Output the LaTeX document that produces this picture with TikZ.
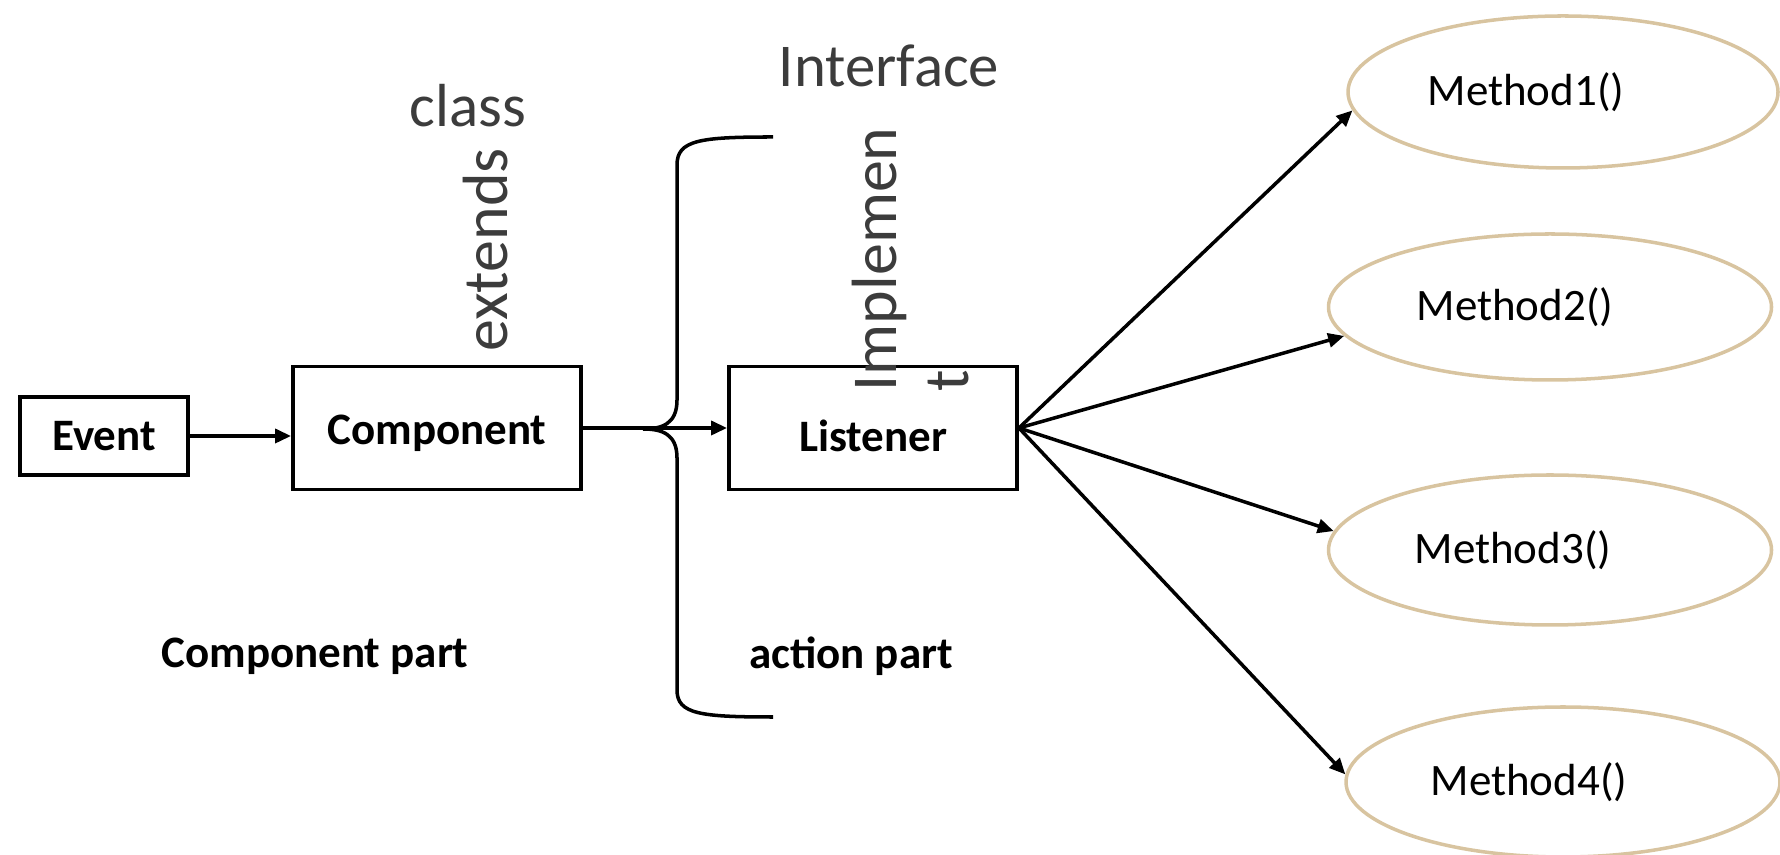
\documentclass[tikz,border=0pt]{standalone}
\usepackage{fontspec}
\setmainfont{Carlito}
\usetikzlibrary{arrows.meta,shapes.geometric}
\definecolor{methodedge}{RGB}{216,196,160}
\definecolor{softtext}{RGB}{60,60,60}

\begin{document}
\begin{tikzpicture}[x=0.1mm,y=-0.1mm,
  box/.style={draw,line width=1.1pt,inner sep=0,font=\fontsize{12.8}{15}\selectfont\bfseries},
  method/.style={ellipse,draw=methodedge,line width=1pt,inner sep=0},
  methodtext/.style={font=\fontsize{12.8}{15}\selectfont},
  bigtext/.style={text=softtext,inner sep=0,font=\fontsize{17.3}{20.5}\selectfont},
  sidetext/.style={text=softtext,inner sep=0,rotate=90,font=\fontsize{18.2}{20.5}\selectfont},
  parttext/.style={inner sep=0,font=\fontsize{12.8}{15}\selectfont\bfseries},
  link/.style={line width=1pt,-{Triangle[length=1.6mm,width=1.4mm]}}]
\useasboundingbox (0,0) rectangle (1780,855);

\node[box,minimum width=16.8mm,minimum height=7.8mm] (EV) at (104,436) {Event};
\node[box,minimum width=28.8mm,minimum height=12.3mm,text height=11.2pt] (COMP) at (437,428) {Component};
\node[box,minimum width=28.8mm,minimum height=12.3mm,text height=13.6pt,text depth=0pt] (LIS) at (873,428) {Listener};

\node[method,minimum width=43mm,minimum height=15.2mm] (M1) at (1563,92) {};
\node[method,minimum width=44.3mm,minimum height=14.6mm] (M2) at (1550,307) {};
\node[method,minimum width=44.3mm,minimum height=15mm] (M3) at (1550,550) {};
\node[method,minimum width=43.4mm,minimum height=15mm] (M4) at (1563,782) {};
\node[methodtext] (M1T) at ([xshift=-3.7mm]M1.center) {Method1()};
\node[methodtext] (M2T) at ([xshift=-3.5mm]M2.center) {Method2()};
\node[methodtext] (M3T) at ([xshift=-3.7mm]M3.center) {Method3()};
\node[methodtext] (M4T) at ([xshift=-3.4mm]M4.center) {Method4()};

\node[bigtext] (CLS) at (468,106) {class};
\node[sidetext] (EXT) at (486,250) {extends};
\node[bigtext] (IFC) at (889,66) {Interface};
\node[sidetext,align=left,anchor=north west] (IMP) at (851,392) {Implemen\\t};

\node[parttext] (CPART) at (315,656) {Component part};
\node[parttext] (APART) at (851,656) {action part};

\draw[link] (EV.east) -- (EV.east -| COMP.west);
\draw[link] (COMP) -- (LIS);

% brace
\coordinate (TIP) at (643,429);
\draw[line width=1pt] (773,137) .. controls (700,137) and (677,140) .. (677,165) -- (677,400)
  .. controls (677,424) and (662,429) .. (TIP)
  .. controls (662,429) and (677,434) .. (677,458) -- (677,690)
  .. controls (677,714) and (700,717) .. (773,717);

\draw[link] (LIS.east) -- (M1.185);
\draw[link] (LIS.east) -- (M2.188);
\draw[link] (LIS.east) -- (M3.175);
\draw[link] (LIS.east) -- (M4.178);
\end{tikzpicture}
\end{document}
